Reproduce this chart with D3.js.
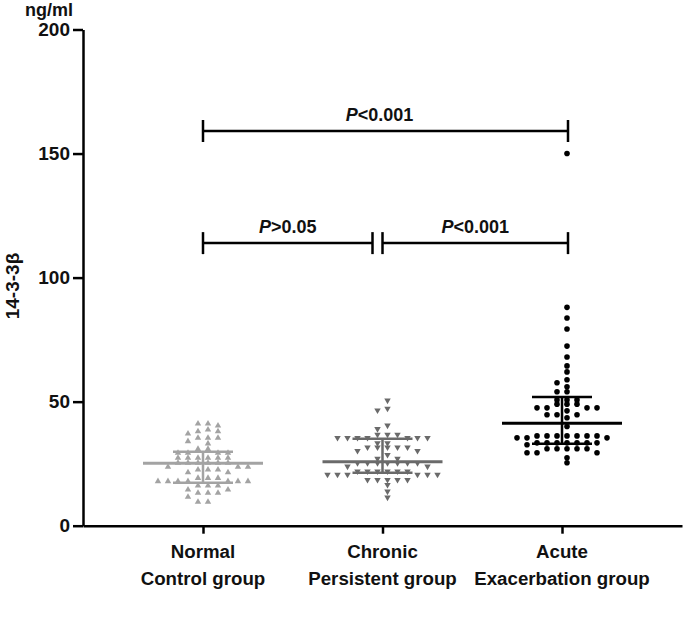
<!DOCTYPE html>
<html>
<head>
<meta charset="utf-8">
<script src="https://cdn.jsdelivr.net/npm/d3@7/dist/d3.min.js"></script>
<style>
  html, body { margin: 0; padding: 0; background: #fff; }
  svg { display: block; }
  text { font-family: "Liberation Sans", Arial, sans-serif; font-weight: bold; fill: #111; }
</style>
</head>
<body>
<svg id="chart" width="685" height="624"></svg>
<script>
// ---------------- DATA ----------------
const categories = ["Normal Control group", "Chronic Persistent group", "Acute Exacerbation group"];
const categoryLines = [["Normal", "Control group"], ["Chronic", "Persistent group"], ["Acute", "Exacerbation group"]];

const normalValues = [41.1, 41.1, 40.3, 38.7, 38.0, 38.0, 37.1, 35.4, 35.4, 35.4, 34.0, 33.1, 30.9, 30.9,
  29.3, 29.3, 29.3, 29.3, 27.3, 27.3, 27.3, 27.3, 27.3, 27.3, 25.3, 25.3, 25.3, 25.3, 25.3, 25.3,
  23.7, 23.7, 23.7, 22.6, 22.6, 22.6, 21.5, 21.5, 19.2, 19.2, 19.2, 17.9, 17.9, 17.9, 17.9, 17.9,
  17.9, 17.9, 16.1, 16.1, 16.1, 14.5, 14.5, 13.2, 13.2, 13.2, 11.6, 9.6, 9.6];

const chronicValues = [50.5, 47.2, 46.5, 40.4, 39.0, 36.7, 36.7, 36.7, 35.4, 35.4, 35.4, 35.4, 35.4,
  35.4, 35.4, 33.3, 33.3, 31.6, 31.6, 31.6, 31.6, 31.6, 30.2, 30.2, 28.6, 27.0, 27.0, 25.3, 25.3,
  25.3, 25.3, 25.3, 25.3, 25.3, 23.9, 23.9, 21.9, 21.9, 21.9, 21.9, 21.9, 21.9, 20.6, 20.6, 20.6,
  20.6, 20.6, 20.6, 18.5, 18.5, 18.5, 18.5, 18.5, 16.5, 13.8, 11.4];

const acuteValues = [150, 88.0, 83.7, 79.3, 72.4, 68.0, 64.4, 62.0, 58.8, 57.6, 56.0, 54.0, 54.0,
  50.7, 50.7, 50.7, 49.0, 49.0, 49.0, 47.5, 47.5, 47.5, 47.5, 46.3, 44.7, 44.7, 44.7, 43.5, 40.0,
  36.2, 36.2, 36.2, 36.2, 36.2, 36.2, 36.2, 35.4, 35.4, 35.4, 33.4, 33.4, 33.4, 33.4, 33.4, 33.4,
  33.4, 32.6, 31.0, 31.0, 31.0, 31.0, 31.0, 29.4, 29.4, 29.4, 27.4, 25.4];

const medians = [25.2, 25.8, 41.3];
const q1Values = [17.3, 21.3, 33.0];
const q3Values = [29.8, 35.0, 51.9];

const yTicks = [0, 50, 100, 150, 200];
const yUnit = "ng/ml";
const yTitle = "14-3-3β";

const comparisonFrom = [0, 0, 1];
const comparisonTo = [2, 1, 2];
const comparisonLevel = [159.1, 113.9, 113.9];
const comparisonSign = ["<", ">", "<"];
const comparisonP = ["0.001", "0.05", "0.001"];

// ---------------- CHART ----------------
const svg = d3.select("#chart");
const colors = ["#a3a3a3", "#6a6a6a", "#000000"];

const y = d3.scaleLinear().domain([0, 200]).range([525.7, 29.5]);
const x = d3.scalePoint().domain(categories).range([83, 682]).padding(0.6685);

// y axis
const yAxis = svg.append("g")
  .attr("transform", "translate(83,0)")
  .call(d3.axisLeft(y).tickValues(yTicks).tickSize(10).tickPadding(3).tickSizeOuter(0));
yAxis.select(".domain").attr("stroke", "#000").attr("stroke-width", 2.5);
yAxis.selectAll(".tick line").attr("stroke", "#000").attr("stroke-width", 2.5);
yAxis.selectAll(".tick text").attr("font-size", 19).attr("font-family", "Liberation Sans, Arial, sans-serif")
  .attr("font-weight", "bold").attr("fill", "#111");

// x axis
const xAxis = svg.append("g")
  .attr("transform", `translate(0,${y(0)})`)
  .call(d3.axisBottom(x).tickSize(8).tickSizeOuter(0).tickFormat(""));
xAxis.select(".domain").attr("stroke", "#000").attr("stroke-width", 2.5);
xAxis.selectAll(".tick line").attr("stroke", "#000").attr("stroke-width", 2.5);

// category labels
categories.forEach((c, i) => {
  const t = svg.append("text").attr("text-anchor", "middle").attr("font-size", 18.7)
    .attr("x", x(c)).attr("y", 558);
  categoryLines[i].forEach((line, j) => {
    t.append("tspan").attr("x", x(c)).attr("dy", j === 0 ? 0 : 27).text(line);
  });
});

// unit + title
svg.append("text").attr("x", 49).attr("y", 15.5).attr("text-anchor", "middle").attr("font-size", 18).text(yUnit);
svg.append("text").attr("transform", "translate(19,286) rotate(-90)").attr("text-anchor", "middle")
  .attr("font-size", 19).text(yTitle);

// beeswarm placement on a half-step grid
function swarm(values) {
  const step = 10, rowH = 4.2;
  const placed = [];
  const sorted = values.slice().sort((a, b) => b - a);
  const cands = [];
  for (let k = 0; k < 12; k++) { cands.push(step / 2 + k * step); cands.push(-step / 2 - k * step); }
  sorted.forEach(v => {
    const py = y(v);
    for (const dx of cands) {
      if (!placed.some(p => Math.abs(p.py - py) < rowH && p.dx === dx)) {
        placed.push({ v, py, dx });
        break;
      }
    }
  });
  return placed;
}

const groups = [normalValues, chronicValues, acuteValues];
groups.forEach((vals, i) => {
  const cx = x(categories[i]);
  const pts = swarm(vals);
  const g = svg.append("g");
  if (i === 2) {
    g.selectAll("circle").data(pts).join("circle")
      .attr("cx", d => cx + d.dx).attr("cy", d => d.py).attr("r", 2.8).attr("fill", colors[i]);
  } else {
    const sym = d3.symbol().type(d3.symbolTriangle).size(18);
    g.selectAll("path").data(pts).join("path")
      .attr("d", sym)
      .attr("transform", d => `translate(${cx + d.dx},${d.py}) rotate(${i === 1 ? 180 : 0})`)
      .attr("fill", colors[i]);
  }
});

// median and interquartile bars
categories.forEach((c, i) => {
  const cx = x(c);
  const g = svg.append("g").attr("stroke", colors[i]).attr("fill", "none");
  g.append("line").attr("x1", cx).attr("x2", cx).attr("y1", y(q1Values[i])).attr("y2", y(q3Values[i])).attr("stroke-width", 2.5);
  g.append("line").attr("x1", cx - 30).attr("x2", cx + 30).attr("y1", y(q1Values[i])).attr("y2", y(q1Values[i])).attr("stroke-width", 2.5);
  g.append("line").attr("x1", cx - 30).attr("x2", cx + 30).attr("y1", y(q3Values[i])).attr("y2", y(q3Values[i])).attr("stroke-width", 2.5);
  g.append("line").attr("x1", cx - 60).attr("x2", cx + 60).attr("y1", y(medians[i])).attr("y2", y(medians[i])).attr("stroke-width", 3);
});

// significance brackets
comparisonFrom.forEach((a, k) => {
  const b = comparisonTo[k];
  const x1 = x(categories[a]);
  const x2 = x(categories[b]) + (b === 1 ? -10 : 6);
  const yy = y(comparisonLevel[k]);
  const g = svg.append("g").attr("stroke", "#000").attr("stroke-width", 2.5);
  g.append("line").attr("x1", x1).attr("x2", x2).attr("y1", yy).attr("y2", yy);
  g.append("line").attr("x1", x1).attr("x2", x1).attr("y1", yy - 11).attr("y2", yy + 11);
  g.append("line").attr("x1", x2).attr("x2", x2).attr("y1", yy - 11).attr("y2", yy + 11);
  const t = svg.append("text").attr("x", (x1 + x2) / 2 - (k === 0 ? 6 : 0)).attr("y", yy - 10)
    .attr("text-anchor", "middle").attr("font-size", 18);
  t.append("tspan").attr("font-style", "italic").text("P");
  t.append("tspan").text(comparisonSign[k] + comparisonP[k]);
});
</script>
</body>
</html>
